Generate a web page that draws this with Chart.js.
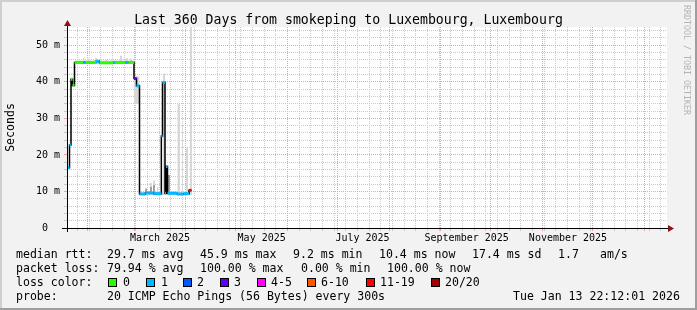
<!DOCTYPE html>
<html><head><meta charset="utf-8">
<script src="https://cdn.jsdelivr.net/npm/chart.js@4.4.1/dist/chart.umd.min.js"></script>
<style>
html,body{margin:0;padding:0;background:#f2f2f2;}
#wrap{position:relative;width:697px;height:310px;overflow:hidden;background:#f2f2f2;font-family:'DejaVu Sans Mono',monospace;color:#000;}
canvas{position:absolute;left:0;top:0;}
#title{position:absolute;left:0;top:13px;width:697px;text-align:center;font-size:13.2px;line-height:13px;white-space:pre;}
#wm{position:absolute;left:682px;top:5px;writing-mode:vertical-rl;font-size:8.3px;line-height:9px;color:#b4b4b4;white-space:pre;}
.t{position:absolute;white-space:pre;font-size:11.55px;line-height:14px;}
.b{position:absolute;top:278px;width:7px;height:7px;border:1px solid #000;}
.sh{position:absolute;}
</style></head><body>
<div id="wrap">
<canvas id="c" width="697" height="310"></canvas>
<div id="title">Last 360 Days from smokeping to Luxembourg, Luxembourg</div>
<div id="wm">RRDTOOL / TOBI OETIKER</div>

<div class="t" style="left:16px;top:247px">median rtt:</div>
<div class="t" style="left:107px;top:247px">29.7 ms avg</div>
<div class="t" style="left:200px;top:247px">45.9 ms max</div>
<div class="t" style="left:293px;top:247px">9.2 ms min</div>
<div class="t" style="left:379px;top:247px">10.4 ms now</div>
<div class="t" style="left:472px;top:247px">17.4 ms sd</div>
<div class="t" style="left:558px;top:247px">1.7</div>
<div class="t" style="left:600px;top:247px">am/s</div>

<div class="t" style="left:16px;top:261px">packet loss:</div>
<div class="t" style="left:107px;top:261px">79.94 % avg</div>
<div class="t" style="left:200px;top:261px">100.00 % max</div>
<div class="t" style="left:301px;top:261px">0.00 % min</div>
<div class="t" style="left:387px;top:261px">100.00 % now</div>

<div class="t" style="left:16px;top:275px">loss color:</div>
<div id="boxes"></div>

<div class="t" style="left:16px;top:289px">probe:</div>
<div class="t" style="left:107px;top:289px">20 ICMP Echo Pings (56 Bytes) every 300s</div>
<div class="t" style="left:513px;top:289px">Tue Jan 13 22:12:01 2026</div>

<div class="sh" style="left:0;top:0;width:697px;height:2px;background:#cfcfcf"></div>
<div class="sh" style="left:0;top:0;width:2px;height:310px;background:#cfcfcf"></div>
<div class="sh" style="left:695px;top:0;width:2px;height:310px;background:#9e9e9e"></div>
<div class="sh" style="left:0;top:308px;width:697px;height:2px;background:#9e9e9e"></div>
</div>
<script>
// ---------- data ----------
const lossLabels = ['0','1','2','3','4-5','6-10','11-19','20/20'];
const lossColors = ['#26ff00','#00b8ff','#0059ff','#5e00ff','#ff00ff','#ff5500','#ff0000','#a00000'];

// median rtt (ms) per step: start (days since window start), value, loss class index
const medStart = [0.0,1.5,2.4,3.3,4.5,9.8,11.4,17.4,19.4,27.6,28.8,34.8,36.8,40.2,41.7,43.5,47.0,52.0,56.6,57.3,58.8,59.4,60.3,66.0,70.0,73.2];
const medValue = [16.5,22.7,40.7,39.0,45.3,45.3,45.3,45.6,45.2,45.3,45.3,45.3,45.3,40.9,38.9,9.3,9.6,9.4,25.2,39.8,9.5,16.8,9.5,9.3,9.4,10.3];
const medLoss  = [1,1,0,0,0,1,0,1,0,1,0,1,0,3,1,1,1,1,1,1,1,1,1,1,1,6];
const medEnd = 74.7;

// smoke (ping spread), light layer: value holds from start until next start
const lightStart = [4.5,9.6,10.5,12.6,13.5,16.8,18.0,22.8,24.0,31.8,33.0,35.4,36.6,37.8,39.0,40.2,43.5,46.8,48.0,49.8,51.0,51.6,52.8,54.0,54.9,57.6,58.8,59.4,60.6,61.8,66.3,67.8,69.0,69.6,71.4,72.6,73.8,75.0];
const lightLo    = [44.9,44.9,44.9,44.9,44.9,44.9,44.9,44.9,44.9,44.9,44.9,44.9,44.9,44.9,44.9,34.0,9.0,9.0,9.0,9.0,9.0,9.0,9.0,9.0,9.0,9.0,9.0,9.0,9.0,9.0,9.0,9.0,9.0,9.0,9.0,9.0,9.0,9.0];
const lightHi    = [45.8,46.6,45.8,46.3,45.8,46.6,45.8,46.2,45.8,47.1,45.8,46.5,45.8,46.4,45.8,41.5,10.0,11.0,10.0,12.3,10.0,13.0,10.0,11.3,10.0,42.3,19.0,10.0,12.5,10.0,34.0,10.0,28.0,10.0,22.0,10.0,56.0,9.0];
// smoke, dark layer
const darkStart = [46.8,48.0,49.8,51.0,51.6,52.8,60.3,61.8];
const darkLo    = [9.5,9.5,9.5,9.5,9.5,9.5,9.5,9.5];
const darkHi    = [10.6,9.5,11.2,9.5,11.8,9.5,14.5,9.5];

// axes
const xMin = 0, xMax = 360, yMin = 0, yMax = 55;
const monthStarts = [12.3,40.3,71.3,101.3,132.3,162.3,193.3,224.3,254.3,285.3,315.3,346.3];
const firstWeek = 6.3;
const monthLabelDays = [55.8,116.8,177.3,239.8,300.6];
const monthLabels = ['March 2025','May 2025','July 2025','September 2025','November 2025'];
const yLabelValues = [0,10,20,30,40,50];
const yLabelTexts = ['0  ','10 m','20 m','30 m','40 m','50 m'];

// ---------- build ----------
const FONT = "'DejaVu Sans Mono', monospace";
const MAJOR = '#f0a0a0', MINOR = '#c8c8c8';
const weekDays = []; for (let d = firstWeek; d < xMax; d += 7) weekDays.push(+d.toFixed(3));
const gridDays = monthStarts.concat(weekDays).sort((a,b)=>a-b);
const yGrid = []; for (let v = 0; v <= 54; v += 2) yGrid.push(v);

const medX = medStart.concat([medEnd]);
const blackPts = [], colPts = [];
medStart.forEach((s,i)=>{
  blackPts.push({x:s,y:medValue[i]},{x:medX[i+1],y:medValue[i]});
  colPts.push({x:s,y:medValue[i]},{x:medX[i+1],y:medValue[i]},{x:medX[i+1],y:null});
});
const pts = (xs, ys) => xs.map((x,i)=>({x, y: ys[i]}));

// boxes legend
const boxX = [108,146,183,220,257,307,366,431];
const lblX = [123,161,197,234,271,321,380,445];
const bx = document.getElementById('boxes');
lossLabels.forEach((l,i)=>{
  const b = document.createElement('div'); b.className='b'; b.style.left=boxX[i]+'px'; b.style.background=lossColors[i]; bx.appendChild(b);
  const t = document.createElement('div'); t.className='t'; t.style.left=lblX[i]+'px'; t.style.top='275px'; t.textContent=l; bx.appendChild(t);
});

const plotBg = { id:'plotBg', beforeDraw(chart){ const {ctx, chartArea:a} = chart; ctx.save(); ctx.fillStyle='#ffffff'; ctx.fillRect(a.left, a.top, a.right-a.left, a.bottom-a.top); ctx.restore(); } };
const axesArrows = { id:'axesArrows', afterDatasetsDraw(chart){
  const {ctx, chartArea:a} = chart; const yb = Math.round(a.bottom)+0.5, xl = Math.round(a.left)+0.5;
  ctx.save(); ctx.strokeStyle='#000'; ctx.lineWidth=1; ctx.beginPath();
  ctx.moveTo(a.left-5, yb); ctx.lineTo(a.right+2, yb);
  ctx.moveTo(xl, a.bottom+4); ctx.lineTo(xl, a.top-2); ctx.stroke();
  ctx.fillStyle='#8f1010';
  ctx.beginPath(); ctx.moveTo(a.right+1, yb-3.5); ctx.lineTo(a.right+7, yb); ctx.lineTo(a.right+1, yb+3.5); ctx.closePath(); ctx.fill();
  ctx.beginPath(); ctx.moveTo(xl-3.5, a.top-1); ctx.lineTo(xl, a.top-7); ctx.lineTo(xl+3.5, a.top-1); ctx.closePath(); ctx.fill();
  ctx.restore(); } };

new Chart(document.getElementById('c'), {
  type: 'line',
  data: { datasets: [
    { data: colPts, borderWidth: 3, borderCapStyle:'butt', pointRadius: 0, spanGaps:false, order: 1,
      segment: { borderColor: c => lossColors[medLoss[Math.floor(c.p0DataIndex/3)]] }, borderColor: lossColors[1] },
    { data: blackPts, borderColor: '#000', borderWidth: 1.5, pointRadius: 0, order: 2 },
    { data: pts(darkStart, darkLo), borderWidth: 0, pointRadius: 0, stepped: 'before', fill: false, order: 4 },
    { data: pts(darkStart, darkHi), borderWidth: 0, pointRadius: 0, stepped: 'before', fill: '-1', backgroundColor: '#a0a0a0', order: 4 },
    { data: pts(lightStart, lightLo), borderWidth: 0, pointRadius: 0, stepped: 'before', fill: false, order: 5 },
    { data: pts(lightStart, lightHi), borderWidth: 0, pointRadius: 0, stepped: 'before', fill: '-1', backgroundColor: '#d8d8d8', order: 5 }
  ]},
  options: {
    responsive: false, animation: false, devicePixelRatio: 1,
    layout: { padding: { left: 0, right: 30, top: 27, bottom: 0 } },
    plugins: { legend: { display: false }, tooltip: { enabled: false }, title: { display: false } },
    elements: { line: { tension: 0 } },
    scales: {
      x: { type:'linear', min:xMin, max:xMax, position:'bottom', weight:0, offset:false,
        afterBuildTicks: s => { s.ticks = gridDays.map(v=>({value:v})); },
        ticks: { display:false },
        grid: { color: c => (c.tick && monthStarts.includes(c.tick.value)) ? MAJOR : MINOR, lineWidth:1, tickLength:3, drawTicks:true, offset:false },
        border: { display:false, dash:[1,1] },
        afterFit: s => { s.height = 3; } },
      xl: { type:'linear', min:xMin, max:xMax, position:'bottom', weight:1, offset:false,
        afterBuildTicks: s => { s.ticks = monthLabelDays.map(v=>({value:v})); },
        ticks: { autoSkip:false, maxRotation:0, minRotation:0, padding:1, color:'#000', font:{family:FONT, size:10}, callback:(v,i)=>monthLabels[i] },
        grid: { display:false, drawTicks:false },
        border: { display:false },
        afterFit: s => { s.height = 79; } },
      y: { type:'linear', min:yMin, max:yMax, position:'left',
        afterBuildTicks: s => { s.ticks = yGrid.map(v=>({value:v})); },
        ticks: { autoSkip:false, color:'#000', padding:4, font:{family:FONT, size:10},
          callback: v => { const k = yLabelValues.indexOf(v); return k < 0 ? '' : yLabelTexts[k]; } },
        grid: { color: c => (c.tick && c.tick.value % 10 === 0) ? MAJOR : MINOR, lineWidth:1, tickLength:3 },
        border: { display:false, dash:[1,1] },
        title: { display:true, text:'Seconds', color:'#000', font:{family:FONT, size:11.55}, padding:{top:4, bottom:0} },
        afterFit: s => { s.width = 67; } }
    }
  },
  plugins: [plotBg, axesArrows]
});
</script>
</body></html>
